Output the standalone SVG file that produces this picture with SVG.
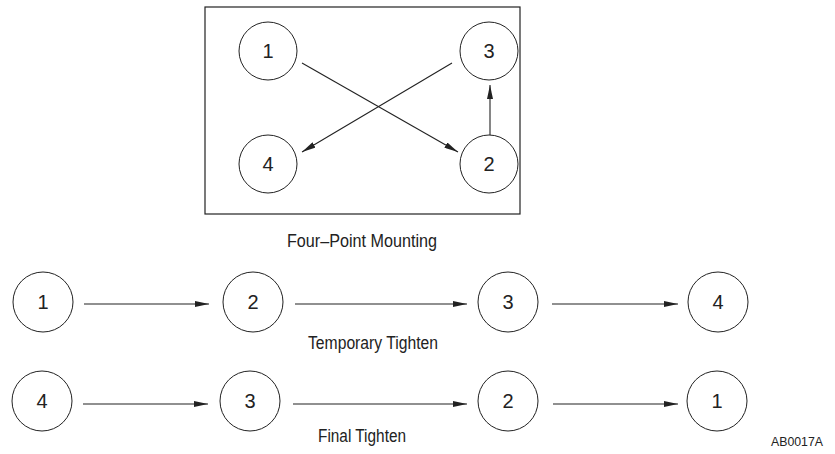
<svg xmlns="http://www.w3.org/2000/svg" width="835" height="454" viewBox="0 0 835 454">
<style>
.c{fill:#fff;stroke:#222;stroke-width:1}
.n{font-family:"Liberation Sans",Arial,sans-serif;font-size:20px;fill:#222;text-anchor:middle}
.l{font-family:"Liberation Sans",Arial,sans-serif;font-size:17.5px;fill:#222;text-anchor:middle}
.a{stroke:#222;stroke-width:1.1;fill:none;marker-end:url(#ah)}
</style>
<defs>
<marker id="ah" viewBox="0 0 14 6" refX="14" refY="3" markerWidth="14" markerHeight="6" markerUnits="userSpaceOnUse" orient="auto">
<path d="M0,0 L14,3 L0,6 Z" fill="#222"/>
</marker>
</defs>
<rect x="205" y="7" width="315" height="207" fill="none" stroke="#222" stroke-width="1.2"/>
<g id="connectors">
<line class="a" x1="302" y1="63" x2="458" y2="152"/>
<line class="a" x1="452" y1="63" x2="302" y2="152"/>
<line class="a" x1="490" y1="135" x2="490" y2="85"/>
<line class="a" x1="84" y1="304" x2="209" y2="304"/>
<line class="a" x1="295" y1="304" x2="467" y2="304"/>
<line class="a" x1="552" y1="304" x2="678" y2="304"/>
<line class="a" x1="83" y1="404" x2="208" y2="404"/>
<line class="a" x1="293" y1="404" x2="467" y2="404"/>
<line class="a" x1="553" y1="404" x2="678" y2="404"/>
</g>
<g id="m1"><circle class="c" cx="268" cy="51" r="29"/><text class="n" x="268" y="58">1</text></g>
<g id="m3"><circle class="c" cx="489" cy="51" r="29"/><text class="n" x="489" y="58">3</text></g>
<g id="m4"><circle class="c" cx="268" cy="164" r="29"/><text class="n" x="268" y="171">4</text></g>
<g id="m2"><circle class="c" cx="489" cy="164" r="29"/><text class="n" x="489" y="171">2</text></g>
<g id="t1"><circle class="c" cx="43" cy="302" r="30"/><text class="n" x="43" y="309">1</text></g>
<g id="t2"><circle class="c" cx="253" cy="302" r="30"/><text class="n" x="253" y="309">2</text></g>
<g id="t3"><circle class="c" cx="508" cy="302" r="30"/><text class="n" x="508" y="309">3</text></g>
<g id="t4"><circle class="c" cx="718" cy="302" r="30"/><text class="n" x="718" y="309">4</text></g>
<g id="f4"><circle class="c" cx="42" cy="401" r="30"/><text class="n" x="42" y="408">4</text></g>
<g id="f3"><circle class="c" cx="250" cy="401" r="30"/><text class="n" x="250" y="408">3</text></g>
<g id="f2"><circle class="c" cx="508" cy="401" r="30"/><text class="n" x="508" y="408">2</text></g>
<g id="f1"><circle class="c" cx="717" cy="401" r="30"/><text class="n" x="717" y="408">1</text></g>
<text class="l" x="362" y="247" textLength="150" lengthAdjust="spacingAndGlyphs">Four–Point Mounting</text>
<text class="l" x="373" y="349" textLength="130" lengthAdjust="spacingAndGlyphs">Temporary Tighten</text>
<text class="l" x="362" y="442" textLength="88" lengthAdjust="spacingAndGlyphs">Final Tighten</text>
<text x="823" y="446" font-family="'Liberation Sans',Arial,sans-serif" font-size="13" fill="#222" text-anchor="end" textLength="52" lengthAdjust="spacingAndGlyphs">AB0017A</text>
</svg>
